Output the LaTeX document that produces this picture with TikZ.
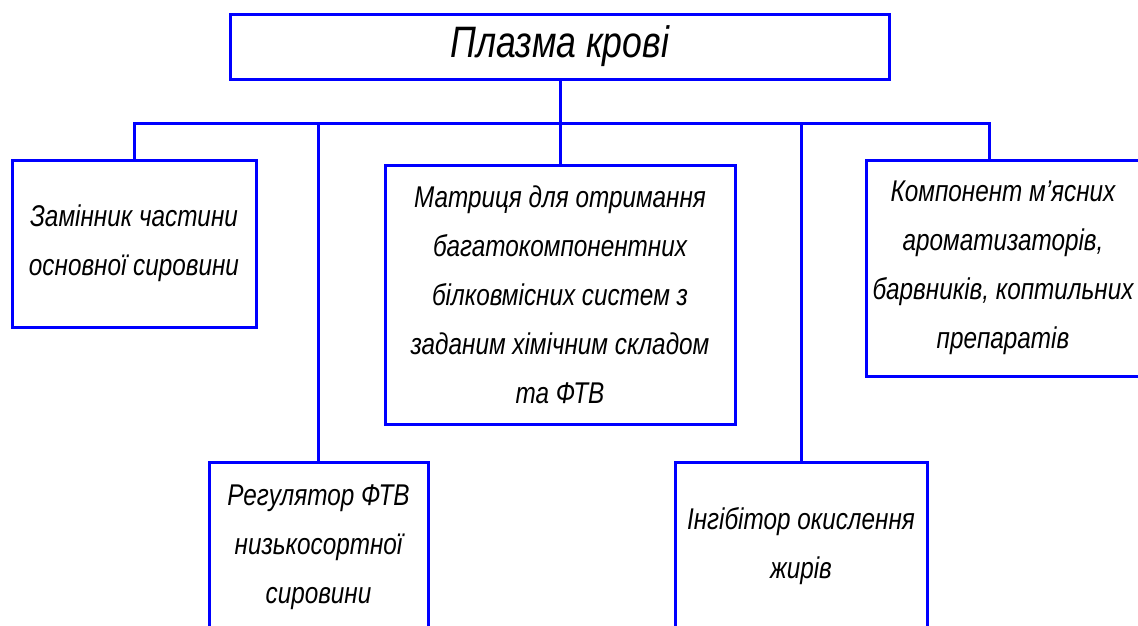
\documentclass[tikz,border=0pt]{standalone}
\usepackage{fontspec}
\newfontfamily\gostfont{Liberation Sans}[FakeStretch=0.81]
\begin{document}
\begin{tikzpicture}[x=1pt,y=-1pt,
    box/.style={draw=blue,line width=3pt,align=center,inner sep=0pt,
      font=\gostfont\itshape\fontsize{30}{49}\selectfont},
    link/.style={draw=blue,line width=3pt}]
    \useasboundingbox (0,0) rectangle (1138,625);
    \clip (0,0) rectangle (1138,625);
    % top box
    \node[box,minimum width=659pt,minimum height=65pt,
      font=\gostfont\itshape\fontsize{44}{50}\selectfont] (plasma) at (560,46.5) {Плазма крові};
    \coordinate (hub) at (560,123);
    % upper row
    \node[box,minimum width=244pt,minimum height=167pt] (zam) at (134,243.5)
      {Замінник частини\\основної сировини};
    \node[box,minimum width=350pt,minimum height=259pt] (matrix) at (560,294.5)
      {Матриця для отримання\\багатокомпонентних\\білковмісних систем з\\заданим хімічним складом\\та ФТВ};
    \node[box,minimum width=274pt,minimum height=216pt] (comp) at (1003,268)
      {Компонент м’ясних\\ароматизаторів,\\барвників, коптильних\\препаратів};
    % lower row
    \node[box,minimum width=219pt,minimum height=170pt] (reg) at (318.5,547)
      {Регулятор ФТВ\\низькосортної\\сировини};
    \node[box,minimum width=252pt,minimum height=168pt] (inh) at (801,546)
      {Інгібітор окислення\\жирів};
    % connectors
    \draw[link] (plasma.south) -- (hub);
    \draw[link] (zam.north) |- (hub) -| ([xshift=-14pt]comp.north);
    \draw[link] (matrix.north) -- (hub);
    \draw[link] (reg.north) -- (reg.north |- hub);
    \draw[link] (inh.north) -- (inh.north |- hub);
\end{tikzpicture}
\end{document}
